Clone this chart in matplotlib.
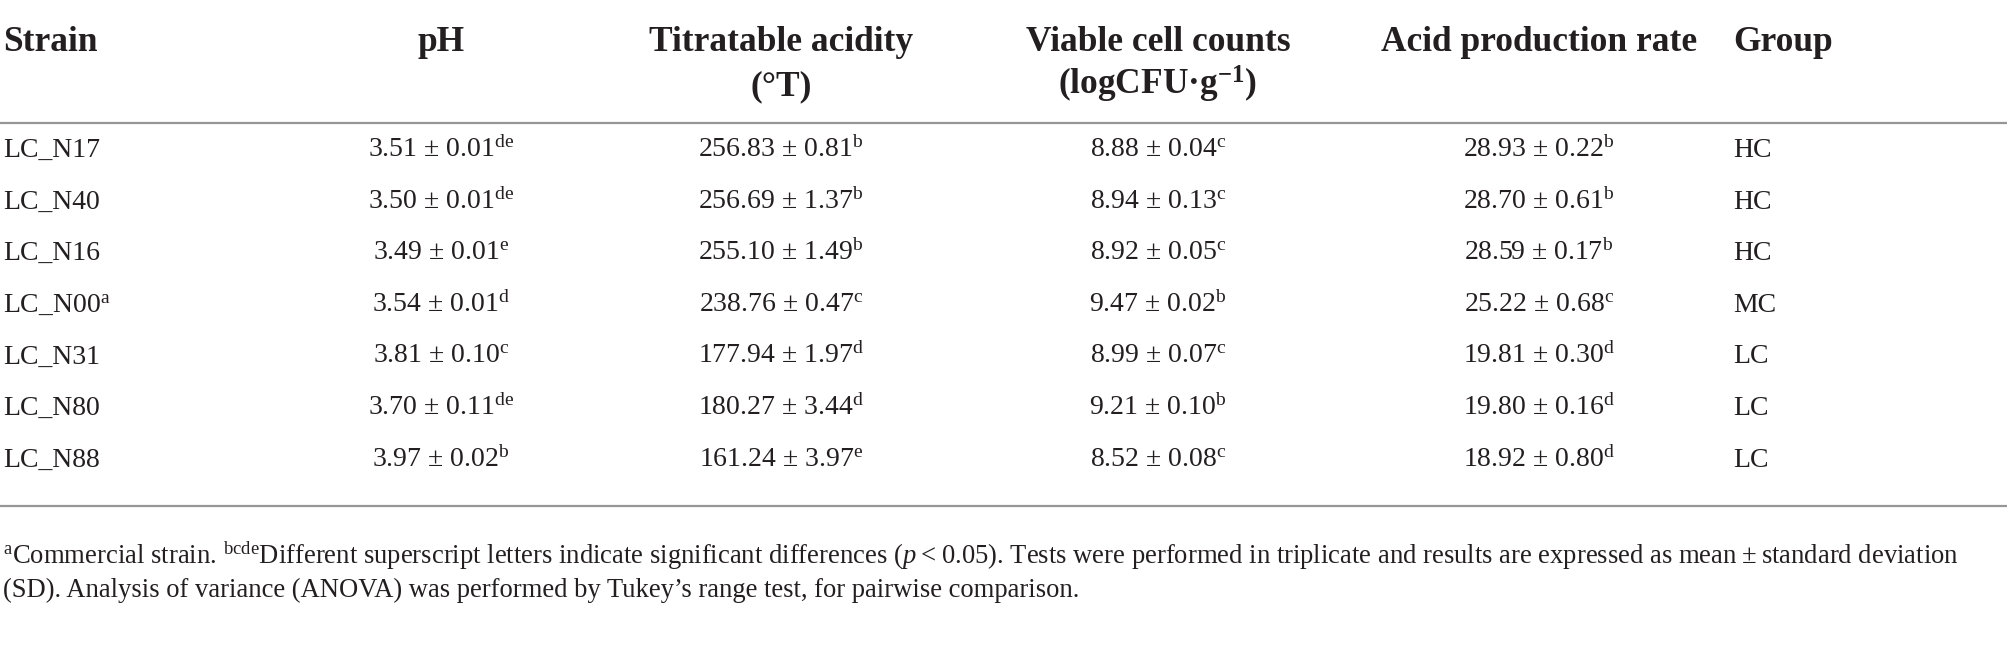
import matplotlib
matplotlib.use("Agg")
import matplotlib.pyplot as plt

plt.rcParams['font.family'] = ['Liberation Serif', 'DejaVu Serif']
plt.rcParams['mathtext.fontset'] = 'custom'
plt.rcParams['mathtext.rm'] = 'Liberation Serif'
plt.rcParams['mathtext.it'] = 'Liberation Serif:italic'
plt.rcParams['mathtext.bf'] = 'Liberation Serif:bold'

# ---------------- data ----------------
strains = ["LC_N17", "LC_N40", "LC_N16", "LC_N00", "LC_N31", "LC_N80", "LC_N88"]
strain_sup = ["", "", "", "a", "", "", ""]

ph_mean = ["3.51", "3.50", "3.49", "3.54", "3.81", "3.70", "3.97"]
ph_sd = ["0.01", "0.01", "0.01", "0.01", "0.10", "0.11", "0.02"]
ph_sup = ["de", "de", "e", "d", "c", "de", "b"]

ta_mean = ["256.83", "256.69", "255.10", "238.76", "177.94", "180.27", "161.24"]
ta_sd = ["0.81", "1.37", "1.49", "0.47", "1.97", "3.44", "3.97"]
ta_sup = ["b", "b", "b", "c", "d", "d", "e"]

vc_mean = ["8.88", "8.94", "8.92", "9.47", "8.99", "9.21", "8.52"]
vc_sd = ["0.04", "0.13", "0.05", "0.02", "0.07", "0.10", "0.08"]
vc_sup = ["c", "c", "c", "b", "c", "b", "c"]

apr_mean = ["28.93", "28.70", "28.59", "25.22", "19.81", "19.80", "18.92"]
apr_sd = ["0.22", "0.61", "0.17", "0.68", "0.30", "0.16", "0.80"]
apr_sup = ["b", "b", "b", "c", "d", "d", "d"]

groups = ["HC", "HC", "HC", "MC", "LC", "LC", "LC"]

headers = ["Strain", "pH", "Titratable acidity\n(°T)",
           "Viable cell counts\n(logCFU·g$^{\\mathbf{-1}}$)",
           "Acid production rate", "Group"]

footnote1 = ("$^{\\mathrm{a}}$Commercial strain. $^{\\mathrm{bcde}}$Different superscript letters "
             "indicate significant differences ($p$\u2009<\u20090.05). Tests were performed in "
             "triplicate and results are expressed as mean\u2009±\u2009standard deviation")
footnote2 = ("(SD). Analysis of variance (ANOVA) was performed by Tukey’s range test, "
             "for pairwise comparison.")

# ---------------- layout ----------------
W, H = 2008, 646
fig = plt.figure(figsize=(W / 100, H / 100), dpi=100)
ax = fig.add_axes([0, 0, 1, 1])
ax.set_xlim(0, W)
ax.set_ylim(H, 0)
ax.axis('off')

txt_color = '#231f20'
rule_color = '#969696'
data_fs = 20
head_fs = 25.5
foot_fs = 19.2

col_x = [3, 441, 781, 1158, 1539, 1733]
col_ha = ['left', 'center', 'center', 'center', 'center', 'left']
head_base = 51
line_gap = 44
row_base0 = 157
row_dy = 51.6

# headers
for x, ha, h in zip(col_x, col_ha, headers):
    for k, part in enumerate(h.split("\n")):
        ax.text(x, head_base + k * line_gap, part, ha=ha, va='baseline',
                fontsize=head_fs, fontweight='bold', color=txt_color)

# rules
ax.axhline(123, color=rule_color, lw=1.6)
ax.axhline(506, color=rule_color, lw=1.6)


def cell(m, s, sup):
    return f"{m} ± {s}$^{{\\mathrm{{{sup}}}}}$"


for i in range(len(strains)):
    y = row_base0 + i * row_dy
    name = strains[i] + (f"$^{{\\mathrm{{{strain_sup[i]}}}}}$" if strain_sup[i] else "")
    vals = [name,
            cell(ph_mean[i], ph_sd[i], ph_sup[i]),
            cell(ta_mean[i], ta_sd[i], ta_sup[i]),
            cell(vc_mean[i], vc_sd[i], vc_sup[i]),
            cell(apr_mean[i], apr_sd[i], apr_sup[i]),
            groups[i]]
    for x, ha, v in zip(col_x, col_ha, vals):
        ax.text(x, y, v, ha=ha, va='baseline', fontsize=data_fs, color=txt_color)

ax.text(3, 564, footnote1, ha='left', va='baseline', fontsize=foot_fs, color=txt_color)
ax.text(3, 597, footnote2, ha='left', va='baseline', fontsize=foot_fs, color=txt_color)

fig.savefig("out.png", dpi=100, facecolor='white')
